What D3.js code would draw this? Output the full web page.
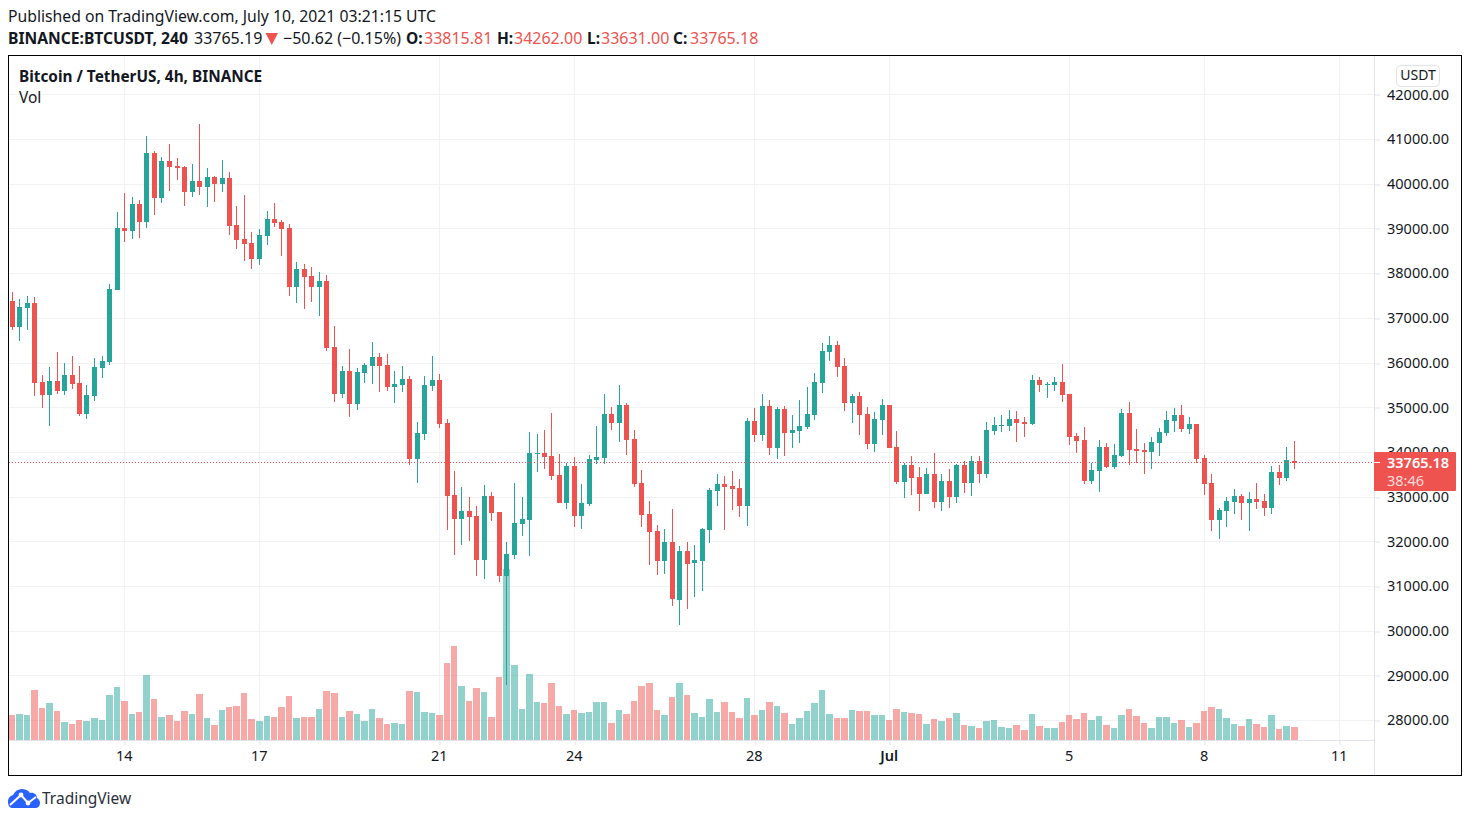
<!DOCTYPE html>
<html><head><meta charset="utf-8">
<script src="https://d3js.org/d3.v7.min.js"></script>
<style>
html,body{margin:0;padding:0;background:#fff;overflow:hidden}
svg{display:block}
text{font-family:"Noto Sans","Open Sans",sans-serif;fill:#131722}
</style></head><body><svg id="c" width="1470" height="822"></svg>
<script>
const open=[37383,36802,37227,37338,35571,35280,35594,35370,35728,35549,34855,35258,35884,36018,37629,39016,38949,39553,39150,40694,39687,40515,40403,40381,39822,40068,39933,40157,40001,40135,39084,38771,38681,38323,38838,39218,39151,39017,37697,38099,37943,37697,37831,36354,35303,35818,35079,35773,35929,36131,35952,35460,35504,35639,33849,34408,35482,35616,34654,33044,32507,32686,32574,31589,33021,32663,31232,31701,32395,32484,33961,33983,33916,33491,32865,33692,32574,32842,33827,33871,34856,34654,35057,34296,33311,32618,32237,31566,31991,30694,31790,31522,31566,32260,33132,33289,33244,33199,32797,34698,34385,35034,34094,34967,34430,34474,34564,34832,35548,36242,36398,35929,35101,35257,34855,34184,34721,35056,34117,33334,33714,33445,33065,33513,32886,33356,32998,33714,33311,33803,33513,34474,34586,34586,34743,34676,34631,35615,35504,35504,35571,35302,34363,34274,33357,33580,34117,33670,33916,34878,34072,34050,34005,34207,34430,34699,34833,34520,34632,33871,33312,32484,32685,32887,33021,32864,32954,32909,32752,33558,33424,33815.81];
const high=[37585,37428,37495,37473,35728,35907,36242,35996,36153,35929,35504,36108,36153,37763,39374,39799,39710,39643,41074,40739,40605,40895,40582,40403,40448,41343,40358,40180,40537,40269,39509,39755,38927,38994,39397,39576,39196,39106,38256,38211,38144,38032,37965,36824,35929,36310,35885,35996,36466,36220,36198,35818,35929,35706,34677,35706,36153,35750,34744,33580,33223,32999,32798,33267,33111,32663,31992,33312,32999,34453,34408,34498,34878,33961,33760,33894,33290,33938,34587,35303,35012,35504,35102,34497,33602,32909,32372,32282,32730,31902,31991,31924,32305,33199,33513,33468,33580,33401,34765,34989,35302,35168,35011,35034,34832,35168,35459,35772,36443,36600,36488,36108,35302,35347,35011,34900,35190,35056,34475,33759,33915,33669,33647,33982,33513,33624,33736,33803,33915,33915,34676,34788,34832,34944,34922,34788,35727,35683,35571,35683,35973,35302,34430,34565,33759,34274,34207,34184,34967,35124,34520,34207,34341,34542,34922,34990,35057,34788,34632,33938,33513,32752,32999,33178,33066,33110,33312,33066,33692,33714,34117,34262];
const low=[36734,36488,36734,35258,34989,34587,35303,35280,35414,34810,34743,35146,35660,35951,37629,38703,38770,38792,39016,39307,39575,39844,40090,39508,39710,39754,39486,39598,39822,38860,38547,38278,38099,38189,38636,39039,38390,37495,37339,37205,37361,37048,36265,35124,35213,34788,34945,35549,35527,35348,35370,35102,35348,33715,33312,34274,35370,34542,32261,31701,31925,32015,31232,31164,32462,31097,28793,31612,32126,31679,33558,33625,33379,32865,32730,32328,32283,32798,33737,33737,34498,34229,33938,33222,32327,31477,31253,31275,30560,30135,30493,30761,30895,31969,32797,32260,32707,32551,32349,34228,34251,33938,33848,33915,34094,34206,34519,34721,35325,36041,35683,34922,34653,34385,34072,34005,34385,34094,33289,32976,33043,32685,33065,32752,32685,32752,32864,33087,33020,33311,33423,34385,34452,34474,34228,34340,34609,35347,35213,35369,35123,34161,33983,33289,33289,33110,33647,33625,33893,33714,33759,33513,33625,33916,34363,34453,34453,34408,33759,33043,32238,32059,32327,32618,32484,32238,32730,32574,32618,33267,33357,33631];
const close=[36802,37249,37338,35549,35280,35594,35370,35728,35526,34855,35280,35907,36041,37652,39016,38949,39553,39150,40694,39687,40515,40381,40358,39822,40068,39933,40157,40001,40135,39061,38748,38659,38323,38860,39218,39128,38994,37697,38099,37920,37697,37831,36332,35303,35818,35079,35795,35952,36131,35929,35460,35527,35639,33849,34431,35504,35616,34632,33021,32507,32686,32551,31589,33021,32641,31232,31724,32417,32507,33983,33983,33894,33469,32865,33692,32574,32865,33849,33894,34856,34654,35057,34274,33289,32595,32215,31566,31991,30716,31790,31499,31589,32282,33155,33289,33222,33177,32797,34698,34385,35034,34094,34967,34430,34497,34586,34855,35571,36264,36398,35906,35101,35257,34832,34184,34743,35056,34094,33334,33714,33423,33065,33513,32886,33356,32998,33714,33311,33803,33513,34497,34609,34609,34743,34653,34631,35615,35504,35526,35571,35280,34340,34251,33357,33603,34117,33670,33938,34878,34050,34028,34005,34229,34453,34721,34833,34520,34632,33849,33289,32484,32708,32909,33021,32864,32954,32887,32752,33558,33424,33826,33765.18];
const volume=[75,78,75,150,96,111,87,54,48,60,57,66,60,135,159,117,78,84,195,123,69,75,57,87,78,138,66,45,90,99,102,141,63,57,72,69,99,132,66,69,69,93,147,141,69,87,78,57,93,66,48,51,48,147,144,84,81,75,231,282,162,117,156,144,69,189,513,225,93,198,114,111,171,102,78,90,81,84,114,114,51,90,78,117,162,171,90,75,129,171,135,81,69,123,84,114,84,66,126,75,90,114,102,81,48,66,87,111,150,78,66,66,90,87,87,75,75,60,93,84,81,78,48,63,57,66,81,45,42,36,57,60,39,36,45,30,78,42,36,36,54,75,63,81,60,72,45,36,75,93,72,51,36,69,69,51,60,39,51,87,99,93,66,48,42,63,48,39,75,33,42,39];
const priceTicks=[28000,29000,30000,31000,32000,33000,34000,35000,36000,37000,38000,39000,40000,41000,42000];
const dateTickBars=[15,33,57,75,99,117,141,159,177];
const dateTickLabels=["14","17","21","24","28","Jul","5","8","11"];
const lastPrice=33765.18;

const UP="#26a69a",DOWN="#ef5350",GRID="#f1f2f4",EDGE="#e0e3eb";
const svg=d3.select("#c");
const x=d3.scaleLinear().domain([0,171]).range([12,1294.5]);
const y=d3.scaleLinear().domain([28000,42000]).range([720.6,94.8]);
const v=d3.scaleLinear().domain([0,513]).range([740,569]);
const px=i=>Math.floor(x(i));
const snap=d=>Math.floor(y(d))+0.5;
svg.append("defs").append("clipPath").attr("id","plot").append("rect").attr("x",9).attr("y",56).attr("width",1365).attr("height",684);
const plot=svg.append("g").attr("clip-path","url(#plot)");

plot.append("g").selectAll("line").data(priceTicks).join("line")
 .attr("x1",9).attr("x2",1374).attr("y1",snap).attr("y2",snap).attr("stroke",GRID);
plot.append("g").selectAll("line").data(dateTickBars).join("line")
 .attr("x1",d=>px(d)+.5).attr("x2",d=>px(d)+.5).attr("y1",56).attr("y2",740).attr("stroke",GRID);

const idx=d3.range(open.length);
plot.append("g").selectAll("rect").data(idx).join("rect")
 .attr("x",i=>px(i)-3).attr("width",i=>px(i+1)-px(i)-1)
 .attr("y",i=>Math.round(v(volume[i]))).attr("height",i=>740-Math.round(v(volume[i])))
 .attr("fill",i=>close[i]<open[i]?DOWN:UP).attr("fill-opacity",.5);

const bars=plot.append("g");
bars.selectAll("rect.w").data(idx).join("rect").attr("class","w")
 .attr("x",i=>px(i)).attr("width",1)
 .attr("y",i=>Math.round(y(high[i]))).attr("height",i=>Math.max(1,Math.round(y(low[i]))-Math.round(y(high[i]))))
 .attr("fill",i=>close[i]<open[i]?DOWN:UP);
bars.selectAll("rect.b").data(idx).join("rect").attr("class","b")
 .attr("x",i=>px(i)-2).attr("width",5)
 .attr("y",i=>Math.round(y(Math.max(open[i],close[i]))))
 .attr("height",i=>Math.max(1,Math.round(y(Math.min(open[i],close[i])))-Math.round(y(Math.max(open[i],close[i])))))
 .attr("fill",i=>close[i]<open[i]?DOWN:UP);

plot.append("line").attr("x1",9).attr("x2",1374).attr("y1",snap(lastPrice)).attr("y2",snap(lastPrice))
 .attr("stroke",DOWN).attr("stroke-dasharray","1 2");

// axes
const yAxis=svg.append("g").attr("transform","translate(1374,0)")
 .call(d3.axisRight(y).tickValues(priceTicks).tickSize(6).tickPadding(7).tickFormat(d3.format(".2f")));
yAxis.select(".domain").remove();
yAxis.selectAll("line").attr("stroke",EDGE).attr("y1",0).attr("y2",0)
 .attr("transform",function(d){return `translate(0,${snap(d)-y(d)})`});
yAxis.selectAll("text").attr("font-size",14.5).attr("dy","0.3em").style("fill","#131722");

const xAxis=svg.append("g").attr("transform","translate(0,740)")
 .call(d3.axisBottom(x).tickValues(dateTickBars).tickSize(5).tickPadding(5).tickFormat((d,i)=>dateTickLabels[i]));
xAxis.select(".domain").remove();
xAxis.selectAll("line").attr("stroke",EDGE).attr("x1",0).attr("x2",0)
 .attr("transform",function(d){return `translate(${px(d)+.5-x(d)},0)`});
xAxis.selectAll("text").attr("font-size",14.5).attr("dx",-0.8).attr("dy","0.75em").style("fill","#131722");
xAxis.selectAll(".tick").filter(d=>d===117).select("text").attr("font-weight",600);

// separators & frame
svg.append("line").attr("x1",9).attr("x2",1374).attr("y1",740.5).attr("y2",740.5).attr("stroke",EDGE);
svg.append("line").attr("x1",1374.5).attr("x2",1374.5).attr("y1",56).attr("y2",775).attr("stroke",EDGE);
svg.append("rect").attr("x",8.5).attr("y",55.5).attr("width",1453).attr("height",720).attr("fill","none").attr("stroke","#000");

// USDT badge
svg.append("rect").attr("x",1396.5).attr("y",65.5).attr("width",43).attr("height",21).attr("rx",4).attr("fill","#fff").attr("stroke",EDGE);
svg.append("text").attr("x",1418).attr("y",79.5).attr("text-anchor","middle").attr("font-size",14).text("USDT");

// last price label
svg.append("rect").attr("x",1374).attr("y",452).attr("width",82).attr("height",39).attr("rx",1).attr("fill",DOWN);
svg.append("line").attr("x1",1374).attr("x2",1380).attr("y1",snap(lastPrice)).attr("y2",snap(lastPrice)).attr("stroke","#fff");
svg.append("text").attr("x",1387).attr("y",468).attr("font-size",14.5).attr("font-weight",600).style("fill","#fff").text(d3.format(".2f")(lastPrice));
svg.append("text").attr("x",1387).attr("y",486).attr("font-size",14.5).style("fill","#fff").style("fill-opacity",.8).text("38:46");

// header
const T=(s,tx,ty,o={})=>svg.append("text").attr("x",tx).attr("y",ty).attr("font-size",o.size||16)
 .attr("font-weight",o.w||400).style("fill",o.c||"#131722").text(s);
T("Published on TradingView.com, July 10, 2021 03:21:15 UTC",8,21.5,{size:15.75});
T("BINANCE:BTCUSDT, 240",8,43.5,{w:700,size:15.65});
T("33765.19",194,43.5);
svg.append("path").attr("d","M265.5 33H278L271.8 45Z").attr("fill",DOWN);
T("−50.62 (−0.15%)",283,43.5);
T("O:",406,43.5,{w:700,size:15.5});T("33815.81",424,43.5,{c:DOWN});
T("H:",497,43.5,{w:700,size:15.5});T("34262.00",514,43.5,{c:DOWN});
T("L:",587,43.5,{w:700,size:15.5});T("33631.00",601,43.5,{c:DOWN});
T("C:",673,43.5,{w:700,size:15.5});T("33765.18",690,43.5,{c:DOWN});
T("Bitcoin / TetherUS, 4h, BINANCE",19,82,{w:700,size:15.35});
T("Vol",19,103,{size:15.5});

// logo
const logo=svg.append("g");
logo.append("path").attr("fill","#2962ff")
 .attr("d","M8 802C8 798 10 796 13 795C15 791 18 789 22 789C25 789 28 790 30 793C34 792 37 795 37 798C39 799 40 801 40 803C40 806 38 808 35 808H13C10 808 8 806 8 802Z");
logo.append("path").attr("fill","none").attr("stroke","#fff").attr("stroke-width",2).attr("d","M10 805L21 795L28 803L36 797");
logo.append("circle").attr("cx",21).attr("cy",795).attr("r",2.4).attr("fill","#fff");
logo.append("circle").attr("cx",28).attr("cy",803).attr("r",2.4).attr("fill","#fff");
T("TradingView",42,804,{c:"#2a2e39",size:15.5});
</script></body></html>
